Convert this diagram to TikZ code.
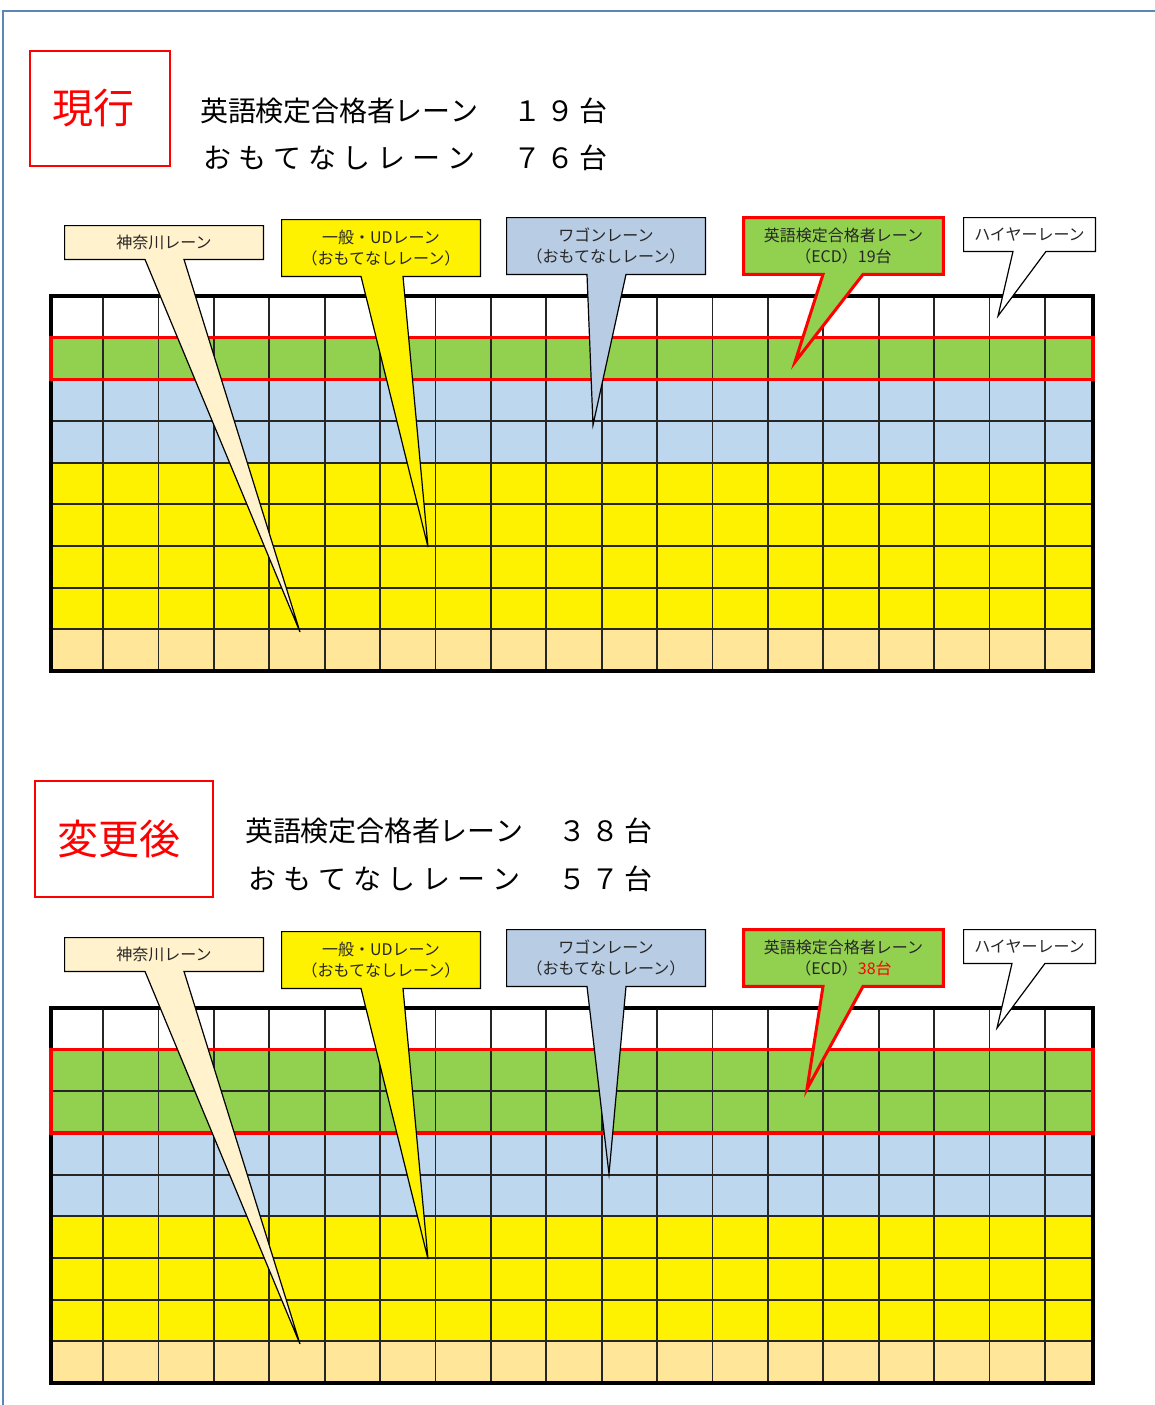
\documentclass[tikz,border=0pt]{standalone}
\usepackage{fontspec}
\setmainfont{Noto Sans CJK JP}
\usetikzlibrary{calc}
\definecolor{lgreen}{HTML}{92D050}
\definecolor{lblue}{HTML}{BDD7EE}
\definecolor{cblue}{HTML}{B8CCE4}
\definecolor{lorange}{HTML}{FFE699}
\definecolor{cream}{HTML}{FFF2CC}
\definecolor{frameblue}{HTML}{5B87B8}
\definecolor{gridgray}{HTML}{262626}
\definecolor{txtgray}{HTML}{262626}
\pgfdeclarelayer{bg}
\pgfsetlayers{bg,main}
\ExplSyntaxOn
\NewDocumentCommand\spreadtext{mm}{\tl_map_inline:nn {#2}{\makebox[#1][c]{##1}}}
\ExplSyntaxOff
\newcommand\lanegrid[2]{%
  \foreach \c [count=\i from 0] in {#2}{%
    \fill[\c] (51,{#1+\i*41.667}) rectangle (1093,{#1+(\i+1)*41.667});}
  \foreach \i in {1,...,8}{%
    \draw[gridline] (51,{#1+\i*41.667}) -- (1093,{#1+\i*41.667});}
  \foreach \k in {0,...,17}{%
    \draw[gridline] ({103+\k*55.4},#1) -- ({103+\k*55.4},{#1+375});}
  \draw[outerline] (51,#1) rectangle (1093,{#1+375});
}
% #1 node, #2 base centre x offset from south, #3 half width, #4 tip, #5 style
\newcommand\calloutshape[5]{%
  \begin{pgfonlayer}{bg}
  \draw[#5] (#1.north west) -- (#1.north east) -- (#1.south east)
    -- ($(#1.south)+({#2+#3},0)$) -- (#4) -- ($(#1.south)+({#2-#3},0)$)
    -- (#1.south west) -- cycle;
  \end{pgfonlayer}}
\begin{document}
\begin{tikzpicture}[x=0.5pt,y=-0.5pt,
  gridline/.style={draw=gridgray,line width=0.9pt},
  outerline/.style={draw=black,line width=1.6pt},
  redrow/.style={draw=red,line width=1.6pt},
  titlebox/.style={draw=red,line width=1pt,text=red,inner sep=0pt,
    font=\fontsize{20.5pt}{24pt}\selectfont},
  titleline/.style={inner sep=0pt,anchor=west,text=black,
    font=\fontsize{14pt}{16pt}\selectfont},
  calltext/.style={inner sep=0pt,align=center,text=txtgray,
    font=\fontsize{8pt}{10.5pt}\selectfont,minimum width=99pt},
  cshape/.style={draw=black,line width=0.6pt,line join=miter},
  kanagawa/.style={cshape,fill=cream},
  ippan/.style={cshape,fill=yellow},
  wagon/.style={cshape,fill=cblue},
  eiken/.style={draw=red,line width=1.5pt,fill=lgreen,line join=miter},
  hire/.style={cshape,fill=white}]
\useasboundingbox (0,0) rectangle (1155,1405);
\begin{pgfonlayer}{bg}
\fill[white] (0,0) rectangle (1155,1405);
\draw[frameblue,line width=1pt] (3,1405) -- (3,11) -- (1155,11);
\end{pgfonlayer}

% ---------------- current ----------------
\node[titlebox,minimum width=70pt,minimum height=57.5pt] (cur) at (100,108.5) {現行\kern6.5pt};
\node[titleline] (c1) at (200,111) {\spreadtext{13.9pt}{英語検定合格者レーン}\spreadtext{16.5pt}{　１９台}};
\node[titleline] (c2) at (200,158) {\spreadtext{17.375pt}{おもてなしレーン}\spreadtext{16.5pt}{　７６台}};

\begin{pgfonlayer}{bg}
\lanegrid{296}{white,lgreen,lblue,lblue,yellow,yellow,yellow,yellow,lorange}
\draw[redrow] (51,337.7) rectangle (1093,379.3);
\end{pgfonlayer}

\coordinate (tk1) at (300,632);
\coordinate (ti1) at (428,547);
\coordinate (tw1) at (593,425);
\coordinate (te1) at (795,362);
\coordinate (th1) at (998,316);

\node[calltext,minimum height=16.5pt] (k1) at (164,242.5) {神奈川レーン};
\node[calltext,minimum height=28pt] (i1) at (381,248) {一般・UDレーン\\（おもてなしレーン）};
\node[calltext,minimum height=28pt] (w1) at (606,246) {ワゴンレーン\\（おもてなしレーン）};
\node[calltext,minimum height=28pt,minimum width=99.5pt] (e1) at (843.5,246) {英語検定合格者レーン\\（ECD）19台};
\node[calltext,minimum height=16.5pt,minimum width=65.5pt] (h1) at (1029.5,234.5) {ハイヤーレーン};

\calloutshape{k1}{0.5}{19.5}{tk1}{kanagawa}
\calloutshape{i1}{1}{21}{ti1}{ippan}
\calloutshape{w1}{0.5}{19.5}{tw1}{wagon}
\calloutshape{e1}{-0.5}{20}{te1}{eiken}
\calloutshape{h1}{0}{16.5}{th1}{hire}

% ---------------- after change ----------------
\node[titlebox,minimum width=89pt,minimum height=58pt] (new) at (124,839) {変更後\kern5.5pt};
\node[titleline] (n1) at (245,831) {\spreadtext{13.9pt}{英語検定合格者レーン}\spreadtext{16.5pt}{　３８台}};
\node[titleline] (n2) at (245,879) {\spreadtext{17.375pt}{おもてなしレーン}\spreadtext{16.5pt}{　５７台}};

\begin{pgfonlayer}{bg}
\lanegrid{1008}{white,lgreen,lgreen,lblue,lblue,yellow,yellow,yellow,lorange}
\draw[redrow] (51,1049.7) rectangle (1093,1133);
\end{pgfonlayer}

\coordinate (tk2) at (300,1344);
\coordinate (ti2) at (428,1259);
\coordinate (tw2) at (609,1174);
\coordinate (te2) at (807,1089);
\coordinate (th2) at (997,1028);

\node[calltext,minimum height=16.5pt] (k2) at (164,954.5) {神奈川レーン};
\node[calltext,minimum height=28pt] (i2) at (381,960) {一般・UDレーン\\（おもてなしレーン）};
\node[calltext,minimum height=28pt] (w2) at (606,958) {ワゴンレーン\\（おもてなしレーン）};
\node[calltext,minimum height=28pt,minimum width=99.5pt] (e2) at (843.5,958) {英語検定合格者レーン\\（ECD）\textcolor{red}{38台}};
\node[calltext,minimum height=16.5pt,minimum width=65.5pt] (h2) at (1029.5,946.5) {ハイヤーレーン};

\calloutshape{k2}{0.5}{19.5}{tk2}{kanagawa}
\calloutshape{i2}{1}{21}{ti2}{ippan}
\calloutshape{w2}{0.5}{19.5}{tw2}{wagon}
\calloutshape{e2}{-0.5}{20}{te2}{eiken}
\calloutshape{h2}{-1}{16.5}{th2}{hire}
\end{tikzpicture}
\end{document}
